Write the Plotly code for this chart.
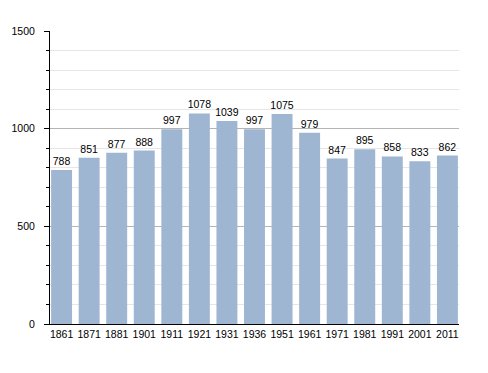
import plotly.graph_objects as go

years = ["1861", "1871", "1881", "1901", "1911", "1921", "1931", "1936",
         "1951", "1961", "1971", "1981", "1991", "2001", "2011"]
population = [788, 851, 877, 888, 997, 1078, 1039, 997, 1075, 979, 847, 895, 858, 833, 862]

fig = go.Figure(go.Bar(
    x=years, y=population,
    marker=dict(color="#9fb6d2", line=dict(width=0)),
    text=[str(v) for v in population],
    textposition="outside",
    textfont=dict(family="Liberation Sans, Arial", size=10.5, color="black"),
    cliponaxis=False,
))

# page body has an 8px default margin, so margins compensate for it
fig.update_layout(
    width=488, height=373,
    margin=dict(l=42, r=37, t=23, b=57, autoexpand=False),
    paper_bgcolor="white", plot_bgcolor="white",
    bargap=0.24,
    showlegend=False,
    uniformtext=dict(mode="show", minsize=10.5),
    font=dict(family="Liberation Sans, Arial", size=10, color="black"),
)
fig.update_xaxes(
    type="category", automargin=False,
    range=[-0.42, len(years) - 1 + 0.42],
    showline=True, linecolor="black", linewidth=1,
    ticks="", showgrid=False,
    tickfont=dict(size=10.5),
)
fig.update_yaxes(
    range=[0, 1500], automargin=False,
    tickvals=[0, 500, 1000, 1500],
    showline=True, linecolor="black", linewidth=1,
    ticks="outside", ticklen=5, tickcolor="black",
    ticklabelstandoff=7,
    showgrid=True, gridcolor="#b4b4b4", gridwidth=1,
    minor=dict(dtick=100, showgrid=True, gridcolor="#e6e6e6",
               ticks="outside", ticklen=3, tickcolor="black"),
    zeroline=False,
    tickfont=dict(size=10.5),
)

fig.write_html("out.html")
